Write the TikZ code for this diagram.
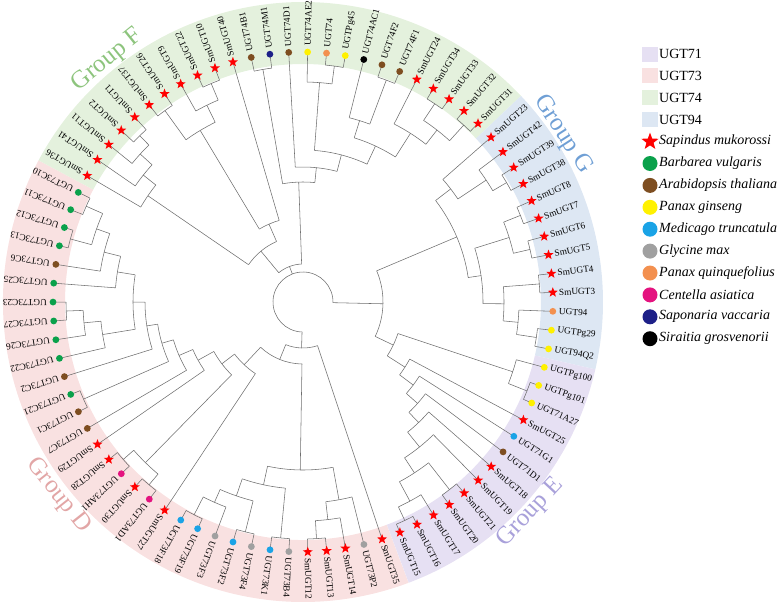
\documentclass[tikz,border=0pt]{standalone}
\usepackage{fontspec}
\setmainfont{Liberation Serif}
\usetikzlibrary{shapes.geometric}
\definecolor{c71}{HTML}{E6E0F3}
\definecolor{c73}{HTML}{F9E1E1}
\definecolor{c74}{HTML}{E4F1DD}
\definecolor{c94}{HTML}{DDE7F3}
\definecolor{brc}{HTML}{6E6E6E}
\definecolor{cgr}{HTML}{0AA14B}
\definecolor{cbr}{HTML}{7E4E21}
\definecolor{cye}{HTML}{FFF100}
\definecolor{cbl}{HTML}{1AA3E6}
\definecolor{cgy}{HTML}{A0A0A0}
\definecolor{cor}{HTML}{F3904F}
\definecolor{cmg}{HTML}{E4137F}
\definecolor{cnv}{HTML}{1D2088}
\definecolor{cbk}{HTML}{000000}
\definecolor{gF}{HTML}{8DC47D}
\definecolor{gG}{HTML}{6F9FD5}
\definecolor{gE}{HTML}{A9A1DA}
\definecolor{gD}{HTML}{E2A6A6}
\tikzset{
  branch/.style={draw=brc, line width=0.55pt},
  mkc/.style={circle, draw=none, inner sep=0pt, minimum size=6.8pt},
  mkst/.style={star, star points=5, star point ratio=2.4, fill=red, draw=none, inner sep=0pt, minimum size=10.5pt},
  mkgr/.style={mkc, fill=cgr},
  mkbr/.style={mkc, fill=cbr},
  mkye/.style={mkc, fill=cye},
  mkbl/.style={mkc, fill=cbl},
  mkgy/.style={mkc, fill=cgy},
  mkor/.style={mkc, fill=cor},
  mkmg/.style={mkc, fill=cmg},
  mknv/.style={mkc, fill=cnv},
  mkbk/.style={mkc, fill=cbk},
  leaflabel/.style={font=\fontsize{9.3}{10}\selectfont, inner sep=0pt, anchor=west},
  grouplabel/.style={font=\fontsize{25}{28}\selectfont, inner sep=0pt},
  legtext/.style={font=\fontsize{14}{16}\selectfont, inner sep=0pt, anchor=west},
  legsq/.style={rectangle, draw=none, inner sep=0pt, minimum width=16.5pt, minimum height=15pt},
  legdot/.style={circle, draw=none, inner sep=0pt, minimum size=15pt},
  legstar/.style={star, star points=5, star point ratio=2.4, fill=red, draw=none, inner sep=0pt, minimum size=18pt},
}
\newcommand\clade[3]{%
  \gdef\clfirst{}%
  \foreach \ch in {#3}{%
    \ifx\clfirst\empty\xdef\clfirst{\ch}\fi
    \xdef\cllast{\ch}%
    \edef\tmpang{\csname ang\ch\endcsname}%
    \draw[branch] (\tmpang:#2pt) -- (\ch);
  }%
  \edef\angA{\csname ang\clfirst\endcsname}%
  \edef\angB{\csname ang\cllast\endcsname}%
  \pgfmathsetmacro\clang{(\angA+\angB)/2}%
  \draw[branch] (\angA:#2pt) arc[start angle=\angA, end angle=\angB, radius=#2pt];
  \expandafter\xdef\csname ang#1\endcsname{\clang}%
  \coordinate (#1) at (\clang:#2pt);
}
\newcommand\band[3]{\fill[#1] (#2:238pt) arc[start angle=#2, end angle=#3, radius=238pt] -- (#3:300pt) arc[start angle=#3, end angle=#2, radius=300pt] -- cycle;}
\def\leaflist{SmUGT35/st,UGT73P2/gy,SmUGT14/st,SmUGT13/st,SmUGT12/st,UGT73B4/gy,UGT73K1/bl,UGT73F4/gy,UGT73F2/bl,UGT73F3/gy,UGT73F19/bl,UGT73F18/bl,SmUGT27/st,UGT73AD1/mg,SmUGT30/st,UGT73AH1/mg,SmUGT28/st,SmUGT29/st,UGT73C7/br,UGT73C1/br,UGT73C21/gr,UGT73C2/br,UGT73C22/gr,UGT73C26/gr,UGT73C27/gr,UGT73C23/gr,UGT73C25/gr,UGT73C6/br,UGT73C13/gr,UGT73C12/gr,UGT73C11/gr,UGT73C10/gr,SmUGT36/st,SmUGT41/st,SmUGT11/st,SmUGT2/st,SmUGT1/st,SmUGT37/st,SmUGT26/st,SmUGT9/st,SmUGT22/st,SmUGT10/st,SmUGT40/st,UGT74B1/br,UGT74M1/nv,UGT74D1/br,UGT74AE2/ye,UGT74/or,UGTPg45/ye,UGT74AC1/bk,UGT74F2/br,UGT74F1/br,SmUGT24/st,SmUGT34/st,SmUGT33/st,SmUGT32/st,SmUGT31/st,SmUGT23/st,SmUGT42/st,SmUGT39/st,SmUGT38/st,SmUGT8/st,SmUGT7/st,SmUGT6/st,SmUGT5/st,SmUGT4/st,SmUGT3/st,UGT94/or,UGTPg29/ye,UGT94Q2/ye,UGTPg100/ye,UGTPg101/ye,UGT71A27/ye,SmUGT25/st,UGT71G1/bl,UGT71D1/br,SmUGT18/st,SmUGT19/st,SmUGT21/st,SmUGT20/st,SmUGT17/st,SmUGT16/st,SmUGT15/st}
\begin{document}
\begin{tikzpicture}
\useasboundingbox (0,0) rectangle (779pt,-605pt);
\begin{scope}
\clip (0,0) rectangle (779pt,-605pt);
\begin{scope}[shift={(303pt,-302pt)}]
\band{c73}{-69.39}{-208.18}
\band{c74}{-208.18}{-316.6}
\band{c94}{-316.6}{-372.98}
\band{c71}{-372.98}{-429.36}
\end{scope}
\end{scope}
\begin{scope}[shift={(303pt,-302pt)}]
\foreach \lname/\lmark [count=\lk from 0] in \leaflist {
  \pgfmathsetmacro\la{-71.56-4.337*\lk}
  \expandafter\xdef\csname ang\lname\endcsname{\la}
  \coordinate (\lname) at (\la:250pt);
}
% group D lower
\clade{nD13}{237}{SmUGT13,SmUGT12}
\clade{nD14}{219}{SmUGT14,nD13}
\clade{nD2b}{201}{UGT73P2,nD14}
\clade{nDBK}{237}{UGT73B4,UGT73K1}
\clade{nDF42}{237}{UGT73F4,UGT73F2}
\clade{nDF1918}{239}{UGT73F19,UGT73F18}
\clade{nDF3}{219}{UGT73F3,nDF1918}
\clade{nDa2}{205}{nDF42,nDF3}
\clade{nD2a}{187}{nDBK,nDa2}
\clade{nD2}{168}{nD2b,nD2a}
% group D upper
\clade{nAD}{239}{UGT73AD1,SmUGT30}
\clade{nAH}{239}{UGT73AH1,SmUGT28}
\clade{nADH}{225}{nAD,nAH}
\clade{nC2723}{237}{UGT73C27,UGT73C23}
\clade{nC26}{220}{UGT73C26,nC2723}
\clade{nCb}{203}{UGT73C22,nC26}
\clade{nC1312}{241}{UGT73C13,UGT73C12}
\clade{nC1110}{237}{UGT73C11,UGT73C10}
\clade{nC1310}{219}{nC1312,nC1110}
\clade{nC6}{205}{UGT73C6,nC1310}
\clade{nCa}{188}{UGT73C25,nC6}
\clade{nCab}{170}{nCb,nCa}
\clade{nLa}{158}{UGT73C2,nCab}
\clade{nC121}{240}{UGT73C1,UGT73C21}
\clade{nLb}{147}{nC121,nLa}
\clade{nLc}{135}{UGT73C7,nLb}
\clade{nLd}{120}{SmUGT29,nLc}
\clade{nLe}{102}{nADH,nLd}
\clade{nLf}{86}{SmUGT27,nLe}
\clade{nY2}{62}{nD2,nLf}
\clade{nDall}{46}{SmUGT35,nY2}
% group F
\clade{nF21}{233}{SmUGT2,SmUGT1}
\clade{nF11}{220}{SmUGT11,nF21}
\clade{nF41}{204}{SmUGT41,nF11}
\clade{nF36}{188}{SmUGT36,nF41}
\clade{nF3726}{236}{SmUGT37,SmUGT26}
\clade{nF2210}{237}{SmUGT22,SmUGT10}
\clade{nF9}{219}{SmUGT9,nF2210}
\clade{nF37}{200}{nF3726,nF9}
\clade{nF3740}{85}{nF37,SmUGT40}
\clade{nFL}{66}{nF36,nF3740}
\clade{nFR1}{236}{UGT74B1,UGT74M1}
\clade{nFP45}{238}{UGT74,UGTPg45}
\clade{nFAE}{220}{UGT74AE2,nFP45}
\clade{nFF}{237}{UGT74F2,UGT74F1}
\clade{nFACF}{190}{UGT74AC1,nFF}
\clade{nS3433}{238}{SmUGT34,SmUGT33}
\clade{nS3231}{239}{SmUGT32,SmUGT31}
\clade{nS34}{218}{nS3433,nS3231}
\clade{nFSm}{200}{SmUGT24,nS34}
\clade{nFACFSm}{172}{nFACF,nFSm}
\clade{nFAEAC}{152}{nFAE,nFACFSm}
\clade{nFD1}{135}{UGT74D1,nFAEAC}
\clade{nFR}{120}{nFR1,nFD1}
\clade{nFall}{38}{nFL,nFR}
% group G
\clade{nG3938}{236}{SmUGT39,SmUGT38}
\clade{nG42}{220}{SmUGT42,nG3938}
\clade{nGA}{186}{SmUGT23,nG42}
\clade{nG87}{234}{SmUGT8,SmUGT7}
\clade{nG65}{233}{SmUGT6,SmUGT5}
\clade{nG8765}{216}{nG87,nG65}
\clade{nG43}{237}{SmUGT4,SmUGT3}
\clade{nG29}{236}{UGTPg29,UGT94Q2}
\clade{nG94}{216}{UGT94,nG29}
\clade{nG4394}{201}{nG43,nG94}
\clade{nGB}{180}{nG8765,nG4394}
\clade{nG}{167}{nGA,nGB}
% group E
\clade{nE101}{241}{UGTPg101,UGT71A27}
\clade{nE1}{221}{UGTPg100,nE101}
\clade{nE2120}{238}{SmUGT21,SmUGT20}
\clade{nE1615}{241}{SmUGT16,SmUGT15}
\clade{nE17}{226}{SmUGT17,nE1615}
\clade{nEL6}{204}{nE2120,nE17}
\clade{nEL5}{186}{SmUGT19,nEL6}
\clade{nEL4}{167}{SmUGT18,nEL5}
\clade{nEL3}{153}{UGT71D1,nEL4}
\clade{nEL2}{138}{UGT71G1,nEL3}
\clade{nEL1}{121}{SmUGT25,nEL2}
\clade{nE0}{100}{nE1,nEL1}
\clade{nX}{80}{nG,nE0}
\clade{nRoot}{30}{nDall,nFall,nX}
% markers and labels
\foreach \lname/\lmark [count=\lk from 0] in \leaflist {
  \pgfmathsetmacro\la{-71.56-4.337*\lk}
  \edef\tmp{\noexpand\node[mk\lmark] (m-\lname) at (\lname) {};}\tmp
  \node[leaflabel, rotate=\la] (t-\lname) at (\la:256pt) {\lname};
}
\node[grouplabel, text=gF, rotate=39] (gpF) at (129:311pt) {Group F};
\node[grouplabel, text=gG, rotate=-57.2] (gpG) at (32.8:309pt) {Group G};
\node[grouplabel, text=gE, rotate=47.2] (gpE) at (-42.8:310pt) {Group E};
\node[grouplabel, text=gD, rotate=-51.6] (gpD) at (-141.6:312pt) {Group D};
\end{scope}
% legend
\node[legsq, fill=c71] (q1) at (650pt,-54pt) {};
\node[legtext] (w1) at (659pt,-54pt) {UGT71};
\node[legsq, fill=c73] (q2) at (650pt,-75.9pt) {};
\node[legtext] (w2) at (659pt,-75.9pt) {UGT73};
\node[legsq, fill=c74] (q3) at (650pt,-97.8pt) {};
\node[legtext] (w3) at (659pt,-97.8pt) {UGT74};
\node[legsq, fill=c94] (q4) at (650pt,-119.7pt) {};
\node[legtext] (w4) at (659pt,-119.7pt) {UGT94};
\node[legstar] (q5) at (650pt,-141.6pt) {};
\node[legtext] (w5) at (659pt,-141.6pt) {\itshape Sapindus mukorossi};
\node[legdot, fill=cgr] (q6) at (650pt,-163.5pt) {};
\node[legtext] (w6) at (659pt,-163.5pt) {\itshape Barbarea vulgaris};
\node[legdot, fill=cbr] (q7) at (650pt,-185.4pt) {};
\node[legtext] (w7) at (659pt,-185.4pt) {\itshape Arabidopsis thaliana};
\node[legdot, fill=cye] (q8) at (650pt,-207.3pt) {};
\node[legtext] (w8) at (659pt,-207.3pt) {\itshape Panax ginseng};
\node[legdot, fill=cbl] (q9) at (650pt,-229.2pt) {};
\node[legtext] (w9) at (659pt,-229.2pt) {\itshape Medicago truncatula};
\node[legdot, fill=cgy] (q10) at (650pt,-251.1pt) {};
\node[legtext] (w10) at (659pt,-251.1pt) {\itshape Glycine max};
\node[legdot, fill=cor] (q11) at (650pt,-273pt) {};
\node[legtext] (w11) at (659pt,-273pt) {\itshape Panax quinquefolius};
\node[legdot, fill=cmg] (q12) at (650pt,-294.9pt) {};
\node[legtext] (w12) at (659pt,-294.9pt) {\itshape Centella asiatica};
\node[legdot, fill=cnv] (q13) at (650pt,-316.8pt) {};
\node[legtext] (w13) at (659pt,-316.8pt) {\itshape Saponaria vaccaria};
\node[legdot, fill=cbk] (q14) at (650pt,-338.7pt) {};
\node[legtext] (w14) at (659pt,-338.7pt) {\itshape Siraitia grosvenorii};
\end{tikzpicture}
\end{document}
